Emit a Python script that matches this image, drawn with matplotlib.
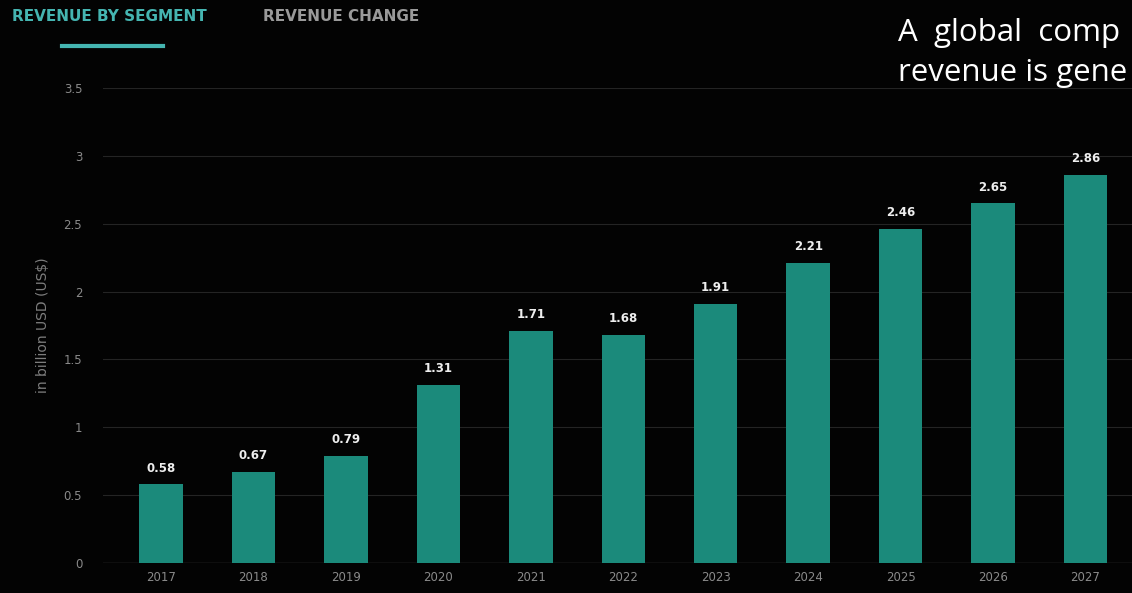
import matplotlib.pyplot as plt

# data
years = ["2017", "2018", "2019", "2020", "2021", "2022", "2023", "2024", "2025", "2026", "2027"]
revenue = [0.58, 0.67, 0.79, 1.31, 1.71, 1.68, 1.91, 2.21, 2.46, 2.65, 2.86]
y_ticks = [0, 0.5, 1, 1.5, 2, 2.5, 3, 3.5]
y_tick_labels = ["0", "0.5", "1", "1.5", "2", "2.5", "3", "3.5"]

bg = "#030303"
bar_color = "#1b8a7b"
tab_color = "#45b5b1"

fig = plt.figure(figsize=(11.32, 5.93), dpi=100)
fig.patch.set_facecolor(bg)
ax = fig.add_axes([0.091, 0.0506, 0.909, 0.801])
ax.set_facecolor(bg)

x = list(range(len(years)))
ax.bar(x, revenue, width=0.47, color=bar_color, zorder=3)

for xi, v in zip(x, revenue):
    ax.annotate(f"{v:.2f}", (xi, v), textcoords="offset points", xytext=(0, 7),
                ha="center", va="bottom", color="#eeeeee", fontsize=8.5,
                fontweight="bold", zorder=4)

ax.set_xlim(-0.627, 10.503)
ax.set_ylim(0, 3.5)
ax.set_yticks(y_ticks)
ax.set_yticklabels(y_tick_labels)
ax.set_xticks(x)
ax.set_xticklabels(years)
ax.tick_params(axis="both", length=0, colors="#8a8a8a", labelsize=8.5)
ax.tick_params(axis="y", pad=15)
ax.tick_params(axis="x", pad=6)
ax.grid(axis="y", color="#242424", linewidth=0.8, zorder=0)
for s in ax.spines.values():
    s.set_visible(False)
ax.axhline(0, color="#3a3a3a", linewidth=1, zorder=2)

ax.set_ylabel("in billion USD (US$)", color="#7e7e7e", fontsize=10, labelpad=10)

# tabs at the top
fig.text(0.011, 0.972, "REVENUE BY SEGMENT", color=tab_color, fontsize=11,
         fontweight="bold", va="center", ha="left")
fig.text(0.232, 0.972, "REVENUE CHANGE", color="#9a9a9a", fontsize=11,
         fontweight="bold", va="center", ha="left")
fig.add_artist(plt.Line2D([0.055, 0.144], [0.923, 0.923], color=tab_color,
                          linewidth=3, transform=fig.transFigure))

# overlaid caption, as much of it as the reference shows
fig.text(0.793, 1 - 41 / 593, "A  global  comp", color="white", fontsize=22.5,
         va="baseline", ha="left", family="Open Sans")
fig.text(0.793, 1 - 81 / 593, "revenue is gene", color="white", fontsize=22.5,
         va="baseline", ha="left", family="Open Sans")

fig.savefig("out.png", dpi=100, facecolor=fig.get_facecolor())
